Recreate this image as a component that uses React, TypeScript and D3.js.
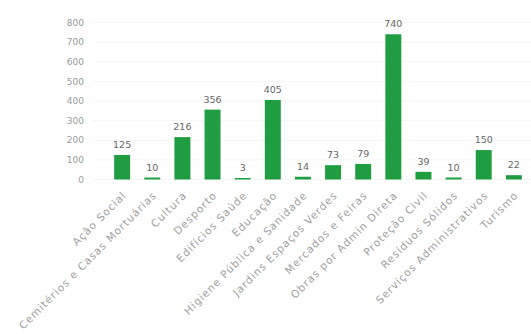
import React from "react";
import * as d3 from "d3";

const categories = [
  "Ação Social",
  "Cemitérios e Casas Mortuárias",
  "Cultura",
  "Desporto",
  "Edifícios Saúde",
  "Educação",
  "Higiene Pública e Sanidade",
  "Jardins Espaços Verdes",
  "Mercados e Feiras",
  "Obras por Admin Direta",
  "Proteção Civil",
  "Resíduos Sólidos",
  "Serviços Administrativos",
  "Turismo",
];
const values = [125, 10, 216, 356, 3, 405, 14, 73, 79, 740, 39, 10, 150, 22];
const yTicks = [0, 100, 200, 300, 400, 500, 600, 700, 800];

const W = 531;
const H = 334;
const FONT = "'DejaVu Sans', 'Open Sans', sans-serif";

export default function App() {
  const x = d3.scaleBand<string>().domain(categories).range([100, 536]).padding(0.47);
  const y = d3.scaleLinear().domain([0, 800]).range([179.5, 22.5]);
  return (
    <svg width={W} height={H} style={{ position: "absolute", left: 0, top: 0, background: "#fff" }} fontFamily={FONT}>
      {yTicks.map((t) => (
        <g key={t}>
          <line x1={92} x2={W} y1={y(t)} y2={y(t)} stroke="#f5f5f5" strokeWidth={1} />
          <text x={84} y={y(t)} dy="0.35em" textAnchor="end" fontSize={9} fill="#999">
            {t}
          </text>
        </g>
      ))}
      {categories.map((c, i) => {
        const bx = x(c)!;
        const bw = x.bandwidth();
        const top = y(values[i]);
        const h = Math.max(y(0) - top, 1.5);
        return (
          <g key={c}>
            <rect x={bx} y={y(0) - h} width={bw} height={h} fill="#1f9d40" />
            <text x={bx + bw / 2} y={y(0) - h - 7} textAnchor="middle" fontSize={9.5} fill="#666">
              {values[i]}
            </text>
            <text
              transform={`translate(${bx + bw / 2 + 5},${196}) rotate(-45)`}
              textAnchor="end"
              fontSize={10.5}
              letterSpacing={1}
              fill="#a0a0a0"
            >
              {c}
            </text>
          </g>
        );
      })}
    </svg>
  );
}
